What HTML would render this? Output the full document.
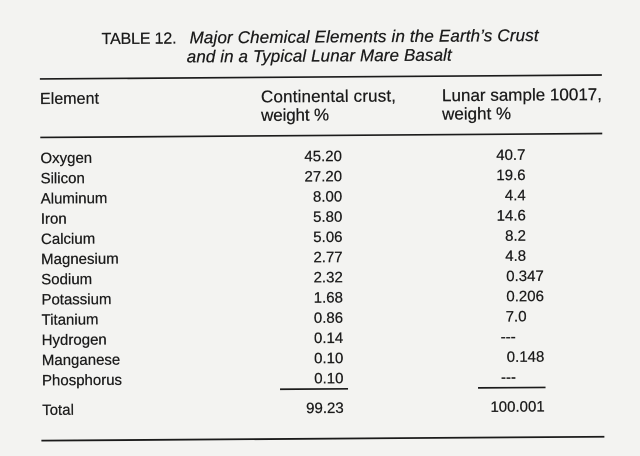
<!DOCTYPE html>
<html>
<head>
<meta charset="utf-8">
<style>
  html,body{margin:0;padding:0;background:#f3f3f1;}
  body{width:640px;height:456px;overflow:hidden;}
  svg{display:block;}
  text{font-family:"Liberation Sans", Arial, sans-serif; fill:#1a1a1a; stroke:#1a1a1a; stroke-width:0.25;}
</style>
</head>
<body>
<svg width="640" height="456" viewBox="0 0 640 456" xmlns="http://www.w3.org/2000/svg">
  <rect x="0" y="0" width="640" height="456" fill="#f3f3f1"/>
  <g transform="rotate(-0.4 320 240)">
    <!-- Title -->
    <text x="103" y="42.5" font-size="16" textLength="75">TABLE 12.</text>
    <text x="191" y="42.5" font-size="17" font-style="italic" textLength="349">Major Chemical Elements in the Earth’s Crust</text>
    <text x="188" y="61.5" font-size="17" font-style="italic" textLength="265">and in a Typical Lunar Mare Basalt</text>

    <!-- Rules -->
    <line x1="41" y1="77" x2="603" y2="77" stroke="#1b1b1b" stroke-width="1.7"/>
    <line x1="41" y1="135.5" x2="603" y2="135.5" stroke="#1b1b1b" stroke-width="1.7"/>

    <!-- Header -->
    <text x="41" y="102" font-size="16" textLength="59">Element</text>
    <text x="262" y="102" font-size="17" textLength="135">Continental crust,</text>
    <text x="262" y="120.5" font-size="17" textLength="68">weight %</text>
    <text x="443" y="102" font-size="17" textLength="160">Lunar sample 10017,</text>
    <text x="443" y="120.5" font-size="17" textLength="69">weight %</text>

    <!-- Names -->
    <g font-size="15">
      <text x="41" y="161.2">Oxygen</text>
      <text x="41" y="181.4">Silicon</text>
      <text x="41" y="201.6">Aluminum</text>
      <text x="41" y="221.8">Iron</text>
      <text x="41" y="242">Calcium</text>
      <text x="41" y="262.2">Magnesium</text>
      <text x="41" y="282.4">Sodium</text>
      <text x="41" y="302.6">Potassium</text>
      <text x="41" y="322.8">Titanium</text>
      <text x="41" y="343">Hydrogen</text>
      <text x="41" y="363.2">Manganese</text>
      <text x="41" y="383.4">Phosphorus</text>
      <text x="41" y="413">Total</text>
    </g>

    <!-- Continental crust column -->
    <g font-size="15" text-anchor="end">
      <text x="342.5" y="161.2">45.20</text>
      <text x="342.5" y="181.4">27.20</text>
      <text x="342.5" y="201.6">8.00</text>
      <text x="342.5" y="221.8">5.80</text>
      <text x="342.5" y="242">5.06</text>
      <text x="342.5" y="262.2">2.77</text>
      <text x="342.5" y="282.4">2.32</text>
      <text x="342.5" y="302.6">1.68</text>
      <text x="342.5" y="322.8">0.86</text>
      <text x="342.5" y="343">0.14</text>
      <text x="342.5" y="363.2">0.10</text>
      <text x="342.5" y="383.4">0.10</text>
      <text x="342.5" y="413">99.23</text>
    </g>

    <!-- Lunar column -->
    <g font-size="15" text-anchor="end">
      <text x="526" y="161.2">40.7</text>
      <text x="526" y="181.4">19.6</text>
      <text x="526" y="201.6">4.4</text>
      <text x="526" y="221.8">14.6</text>
      <text x="526" y="242">8.2</text>
      <text x="526" y="262.2">4.8</text>
      <text x="543.5" y="282.4">0.347</text>
      <text x="543.5" y="302.6">0.206</text>
      <text x="526" y="322.8">7.0</text>
      <text x="543.5" y="363.2">0.148</text>
      <text x="543.5" y="413">100.001</text>
    </g>
    <g font-size="15">
      <text x="500" y="343">---</text>
      <text x="500" y="383.4">---</text>
    </g>

    <!-- Sum rules -->
    <line x1="279" y1="389" x2="347" y2="389" stroke="#1b1b1b" stroke-width="1.7"/>
    <line x1="477" y1="389" x2="544.5" y2="389" stroke="#1b1b1b" stroke-width="1.7"/>

    <!-- Bottom rule -->
    <line x1="40" y1="438.7" x2="603" y2="438.7" stroke="#1b1b1b" stroke-width="1.8"/>
  </g>
</svg>
</body>
</html>
